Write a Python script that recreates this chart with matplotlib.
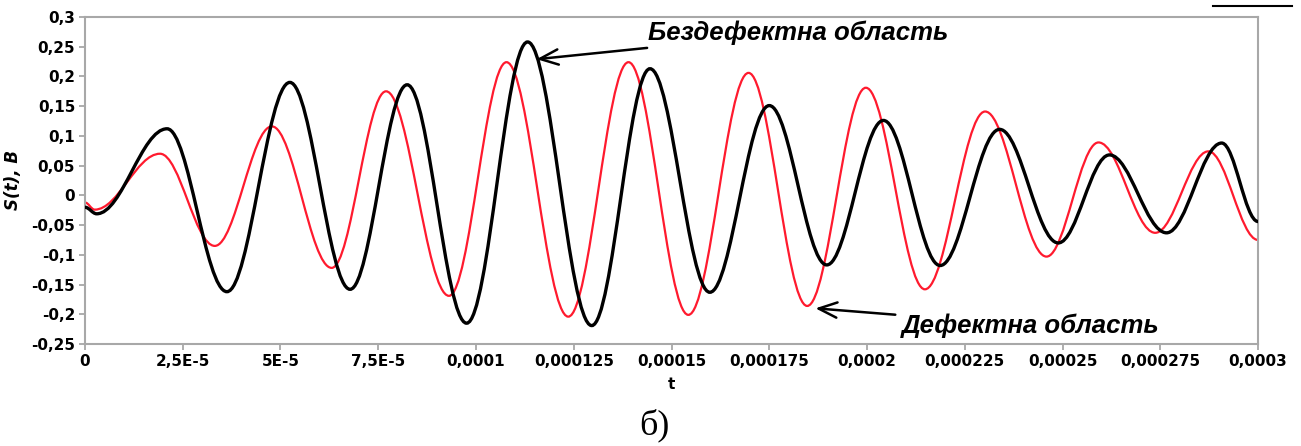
import matplotlib
matplotlib.use("Agg")
import matplotlib.pyplot as plt
from matplotlib.path import Path
from matplotlib.patches import PathPatch
from matplotlib.lines import Line2D

# extrema (t in s, S in V)
black_t = [0.0, 0.3e-5, 2.10e-5, 3.63e-5, 5.24e-5, 6.78e-5, 8.24e-5, 9.76e-5, 11.32e-5,
           12.96e-5, 14.45e-5, 15.98e-5, 17.50e-5, 18.97e-5, 20.42e-5, 21.87e-5,
           23.39e-5, 24.89e-5, 26.20e-5, 27.66e-5, 29.07e-5, 30.0e-5]
black_v = [-0.020, -0.031, 0.112, -0.162, 0.190, -0.158, 0.186, -0.215, 0.258,
           -0.219, 0.213, -0.163, 0.151, -0.117, 0.126, -0.118,
           0.111, -0.080, 0.068, -0.063, 0.088, -0.044]

red_t = [0.0, 0.25e-5, 1.92e-5, 3.32e-5, 4.78e-5, 6.31e-5, 7.70e-5, 9.31e-5, 10.78e-5,
         12.36e-5, 13.90e-5, 15.43e-5, 16.97e-5, 18.47e-5, 19.97e-5, 21.48e-5,
         23.02e-5, 24.59e-5, 25.92e-5, 27.37e-5, 28.73e-5, 30.0e-5]
red_v = [-0.012, -0.024, 0.070, -0.085, 0.116, -0.122, 0.175, -0.169, 0.224,
         -0.204, 0.224, -0.201, 0.206, -0.186, 0.181, -0.158,
         0.141, -0.103, 0.089, -0.063, 0.074, -0.075]

x_ticks = [0, 2.5e-5, 5e-5, 7.5e-5, 1e-4, 1.25e-4, 1.5e-4, 1.75e-4, 2e-4, 2.25e-4, 2.5e-4, 2.75e-4, 3e-4]
x_labels = ["0", "2,5E-5", "5E-5", "7,5E-5", "0,0001", "0,000125", "0,00015", "0,000175",
            "0,0002", "0,000225", "0,00025", "0,000275", "0,0003"]
y_ticks = [-0.25, -0.2, -0.15, -0.1, -0.05, 0, 0.05, 0.1, 0.15, 0.2, 0.25, 0.3]
y_labels = ["-0,25", "-0,2", "-0,15", "-0,1", "-0,05", "0", "0,05", "0,1", "0,15", "0,2", "0,25", "0,3"]


def smooth_path(ts, vs):
    # cubic bezier between extrema, flat tangent at each extremum
    verts = [(ts[0], vs[0])]
    codes = [Path.MOVETO]
    k = 0.364
    for i in range(1, len(ts)):
        dt = ts[i] - ts[i - 1]
        verts += [(ts[i - 1] + k * dt, vs[i - 1]), (ts[i] - k * dt, vs[i]), (ts[i], vs[i])]
        codes += [Path.CURVE4] * 3
    return Path(verts, codes)


fig = plt.figure(figsize=(13.01, 4.46), dpi=100)
ax = fig.add_axes([0.0653, 0.2287, 0.9017, 0.7332])

ax.add_patch(PathPatch(smooth_path(red_t, red_v), fill=False, edgecolor="#ff1a2e", lw=1.6, zorder=2))
ax.add_patch(PathPatch(smooth_path(black_t, black_v), fill=False, edgecolor="black", lw=2.4, zorder=3))

ax.set_xlim(0, 3e-4)
ax.set_ylim(-0.25, 0.3)
ax.set_xticks(x_ticks)
ax.set_xticklabels(x_labels)
ax.set_yticks(y_ticks)
ax.set_yticklabels(y_labels)
for lab in ax.get_xticklabels() + ax.get_yticklabels():
    lab.set_fontweight("bold")
    lab.set_fontsize(11)
ax.tick_params(direction="out", length=4, width=1.2, color="#a0a0a0", pad=3)
for sp in ax.spines.values():
    sp.set_color("#a8a8a8")
    sp.set_linewidth(1.5)

ax.set_xlabel("t", fontsize=11, fontweight="bold", labelpad=6)
ax.set_ylabel("S(t), B", fontsize=12, fontweight="bold", style="italic", labelpad=7)

arrow = dict(arrowstyle="->, head_length=0.6, head_width=0.25", color="black", lw=1.8,
             mutation_scale=22, shrinkA=3, shrinkB=0)
ax.annotate("Бездефектна область", xy=(11.55e-5, 0.229), xytext=(14.4e-5, 0.274),
            fontsize=18.5, fontweight="bold", style="italic", family="Liberation Sans",
            va="center", ha="left", arrowprops=arrow)
ax.annotate("Дефектна область", xy=(18.68e-5, -0.19), xytext=(20.9e-5, -0.219),
            fontsize=18.5, fontweight="bold", style="italic", family="Liberation Sans",
            va="center", ha="left", arrowprops=arrow)

fig.text(0.503, 0.047, "б)", fontsize=26, family="Liberation Serif", ha="center", va="center")
fig.add_artist(Line2D([0.932, 0.993], [0.987, 0.987], color="black", lw=1.5))

fig.savefig("out.png", dpi=100)
